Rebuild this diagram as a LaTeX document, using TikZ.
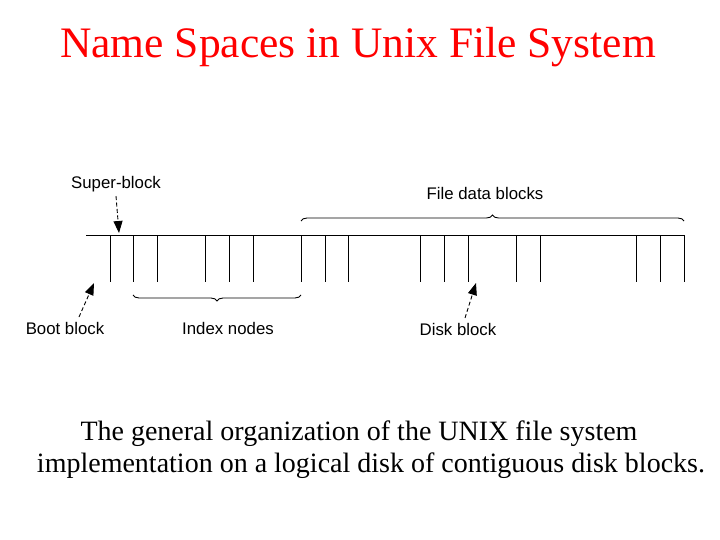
\documentclass[tikz,border=0pt]{standalone}
\usepackage{fontspec}
\setmainfont{Liberation Serif}
\newfontfamily\arialf{Liberation Sans}
\usetikzlibrary{decorations.pathreplacing,arrows.meta}
\begin{document}
\begin{tikzpicture}[x=1pt,y=-1pt,
  lbl/.style={font=\arialf\fontsize{16.8}{19}\selectfont,inner sep=0pt},
  ln/.style={line width=1pt},
  ptr/.style={line width=0.9pt,dashed,dash pattern=on 4pt off 2.5pt,-{Triangle[length=12pt,width=9pt]}},
  brc/.style={line width=0.9pt,decorate,decoration={brace,amplitude=6pt}}]
\useasboundingbox (0,0) rectangle (720,540);
\node[text=red,font=\fontsize{43.5}{48}\selectfont] (title) at (358,47) {Name Spaces in Unix File System};
\coordinate (L) at (86,235); \coordinate (R) at (684,235);
\draw[ln] (L) -- (R);
\foreach \x in {110,133,157,205,229,253,301,325,348,420,444,468,516,540,636,660,684}
  \draw[ln] (\x,235) -- (\x,282);
\coordinate (fa) at (301,221); \coordinate (fb) at (684,221);
\draw[brc] (fa) -- (fb);
\coordinate (ia) at (133,295); \coordinate (ib) at (301,295);
\draw[brc,decoration={mirror}] (ia) -- (ib);
\node[lbl] (sb) at (116,184) {Super-block};
\coordinate (sbt) at (119,233);
\draw[ptr] (sb.south) ++(0,4) -- (sbt);
\node[lbl] (fdb) at (485,193) {File data blocks};
\node[lbl] (bb) at (65,328) {Boot block};
\coordinate (bbt) at (94,283);
\draw[ptr] (79,317) -- (bbt);
\node[lbl] (in) at (228,328) {Index nodes};
\node[lbl] (db) at (458,329) {Disk block};
\coordinate (dbt) at (476,283);
\draw[ptr] (465,318) -- (dbt);
\node[font=\fontsize{28}{32}\selectfont,inner sep=0pt] (cap1) at (359,434) {The general organization of the UNIX file system};
\node[font=\fontsize{28}{32}\selectfont,inner sep=0pt] (cap2) at (371,466) {implementation on a logical disk of contiguous disk blocks.};
\end{tikzpicture}
\end{document}
